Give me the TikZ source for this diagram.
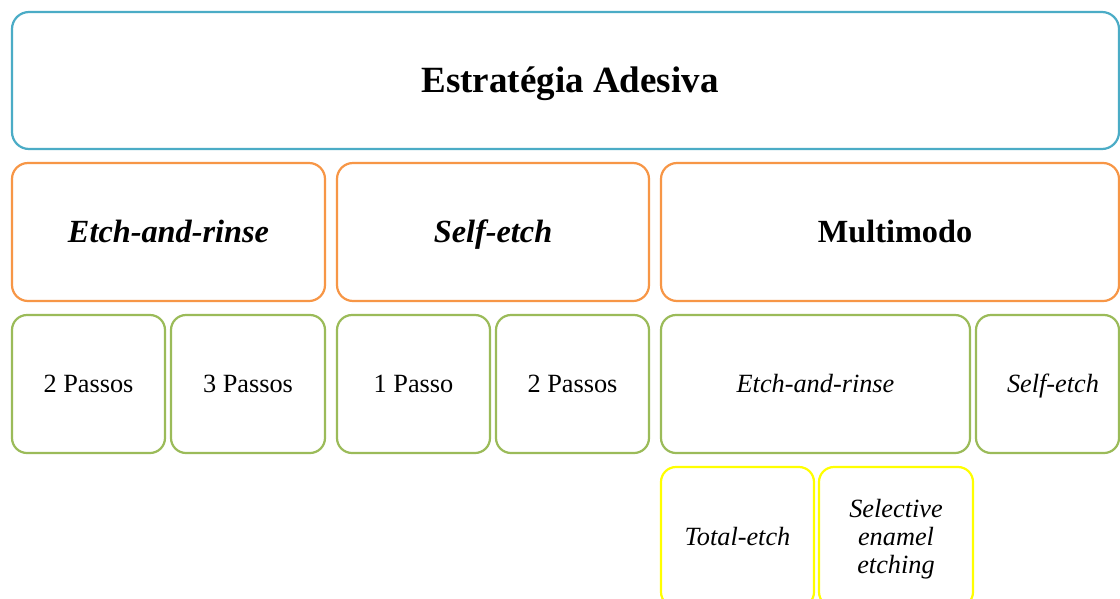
\documentclass[tikz,border=0pt]{standalone}
\usepackage{fontspec}
\setmainfont{Liberation Serif}
\definecolor{cblue}{HTML}{4BACC6}
\definecolor{corange}{HTML}{F79646}
\definecolor{cgreen}{HTML}{9BBB59}
\definecolor{cyellow}{HTML}{FFFF00}
\tikzset{
  box/.style={draw, line width=2.2pt, rounded corners=15pt, inner sep=0pt, align=center, fill=white, text depth=0pt},
  titlebox/.style={box, draw=cblue, rounded corners=17pt, font=\fontsize{37}{40}\selectfont\bfseries, text height=24.5pt},
  catbox/.style={box, draw=corange, rounded corners=16pt, font=\fontsize{32.3}{34}\selectfont\bfseries, text height=21.4pt},
  subbox/.style={box, draw=cgreen, font=\fontsize{26.3}{28}\selectfont, text height=17.4pt},
  leafbox/.style={box, draw=cyellow, font=\fontsize{26.3}{28}\selectfont\itshape, text height=17.4pt},
}
\begin{document}
\begin{tikzpicture}[x=1pt,y=-1pt]
\useasboundingbox (0,0) rectangle (1120,598);
\clip (0,0) rectangle (1120,598);
\fill[white] (0,0) rectangle (1120,598);
% top
\node[titlebox, minimum width=1107pt, minimum height=137pt] (title) at (565.5,80.5) {\hspace*{9pt}Estratégia Adesiva};
% categories
\node[catbox, minimum width=313pt, minimum height=138pt] (er) at (168.5,232) {\itshape Etch-and-rinse};
\node[catbox, minimum width=312pt, minimum height=138pt] (se) at (493,232) {\itshape Self-etch};
\node[catbox, minimum width=458pt, minimum height=138pt] (mm) at (890,232) {\hspace*{10pt}Multimodo};
% sub
\node[subbox, minimum width=153pt, minimum height=138pt] (er2) at (88.5,384) {2 Passos};
\node[subbox, minimum width=154pt, minimum height=138pt] (er3) at (248,384) {3 Passos};
\node[subbox, minimum width=153pt, minimum height=138pt] (se1) at (413.5,384) {1 Passo};
\node[subbox, minimum width=153pt, minimum height=138pt] (se2) at (572.5,384) {2 Passos};
\node[subbox, minimum width=309pt, minimum height=138pt] (mmer) at (815.5,384) {\itshape Etch-and-rinse};
\node[subbox, minimum width=143pt, minimum height=138pt] (mmse) at (1047.5,384) {\hspace*{11pt}\itshape Self-etch};
% leaves
\node[leafbox, minimum width=153pt, minimum height=140pt] (te) at (737.5,537) {Total-etch};
\node[leafbox, minimum width=154pt, minimum height=140pt, text height=73.4pt] (see) at (896,537) {Selective\\enamel\\etching};
\end{tikzpicture}
\end{document}
